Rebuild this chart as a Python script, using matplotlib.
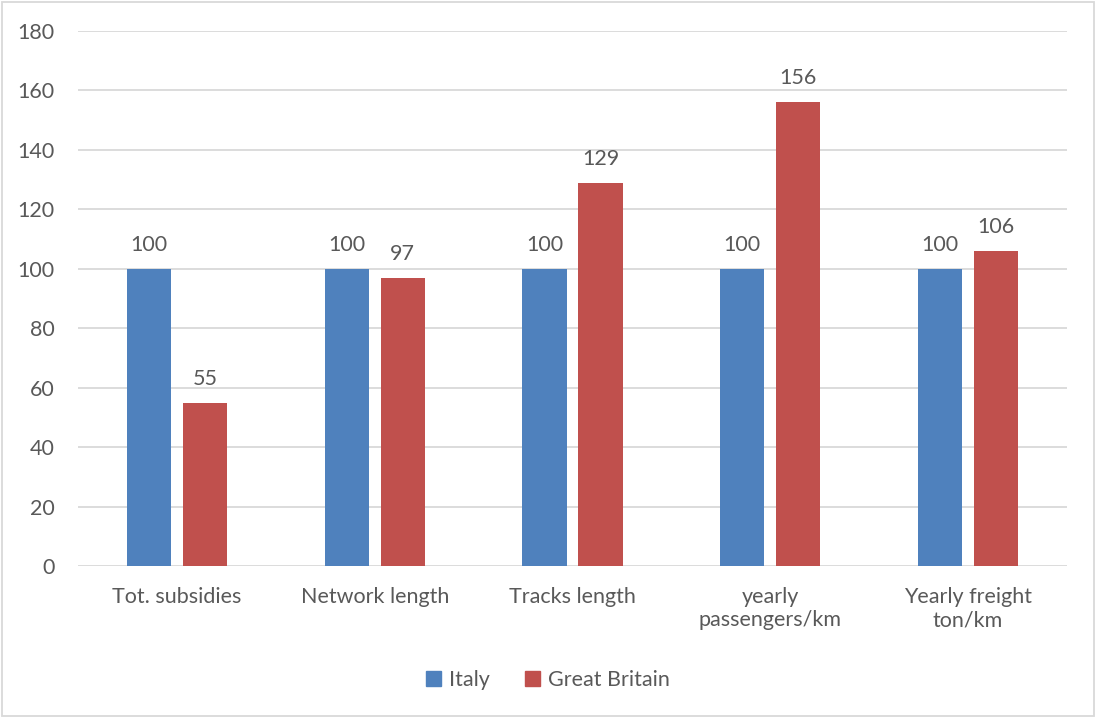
import matplotlib
matplotlib.use("Agg")
import matplotlib.pyplot as plt
from matplotlib.patches import Rectangle, Patch
import numpy as np

categories = ["Tot. subsidies", "Network length", "Tracks length",
              "yearly\npassengers/km", "Yearly freight\nton/km"]
italy = [100, 100, 100, 100, 100]
great_britain = [55, 97, 129, 156, 106]
yticks = [0, 20, 40, 60, 80, 100, 120, 140, 160, 180]

BLUE = "#4F81BD"
RED = "#C0504D"
TEXT = "#595959"
GRID = "#D9D9D9"
FS = 15.5

plt.rcParams["font.family"] = ["Lato", "DejaVu Sans"]

fig = plt.figure(figsize=(10.96, 7.17), dpi=100)
ax = fig.add_axes([0.0712, 0.2106, 0.9023, 0.7462])

x = np.arange(len(categories))
bw = 0.223
off = 0.1415
b1 = ax.bar(x - off, italy, bw, color=BLUE, zorder=3, label="Italy")
b2 = ax.bar(x + off, great_britain, bw, color=RED, zorder=3, label="Great Britain")

for bars, vals in ((b1, italy), (b2, great_britain)):
    for rect, v in zip(bars, vals):
        ax.annotate(f"{v}", (rect.get_x() + rect.get_width() / 2, v),
                    xytext=(0, 10), textcoords="offset points",
                    ha="center", va="bottom", fontsize=FS, color=TEXT)

ax.set_xlim(-0.5, len(categories) - 0.5)
ax.set_ylim(0, 180)
ax.set_yticks(yticks)
ax.set_xticks(x)
ax.set_xticklabels(categories, linespacing=1.2)
ax.tick_params(axis="both", length=0, labelsize=FS, labelcolor=TEXT)
ax.tick_params(axis="y", pad=17)
ax.tick_params(axis="x", pad=15)
ax.yaxis.grid(True, color=GRID, linewidth=1.3, zorder=0)
ax.set_axisbelow(True)
for s in ax.spines.values():
    s.set_visible(False)

fig.legend(handles=[Patch(color=BLUE, label="Italy"),
                    Patch(color=RED, label="Great Britain")],
           loc="center", bbox_to_anchor=(0.5, 0.052), ncol=2, frameon=False,
           fontsize=FS, labelcolor=TEXT, handlelength=0.7, handleheight=0.7,
           handletextpad=0.4, columnspacing=1.6)

fig.patches.append(Rectangle((0.002, 0.002), 0.996, 0.995, transform=fig.transFigure,
                             fill=False, edgecolor=GRID, linewidth=1.3))

fig.savefig("out.png", dpi=100)
